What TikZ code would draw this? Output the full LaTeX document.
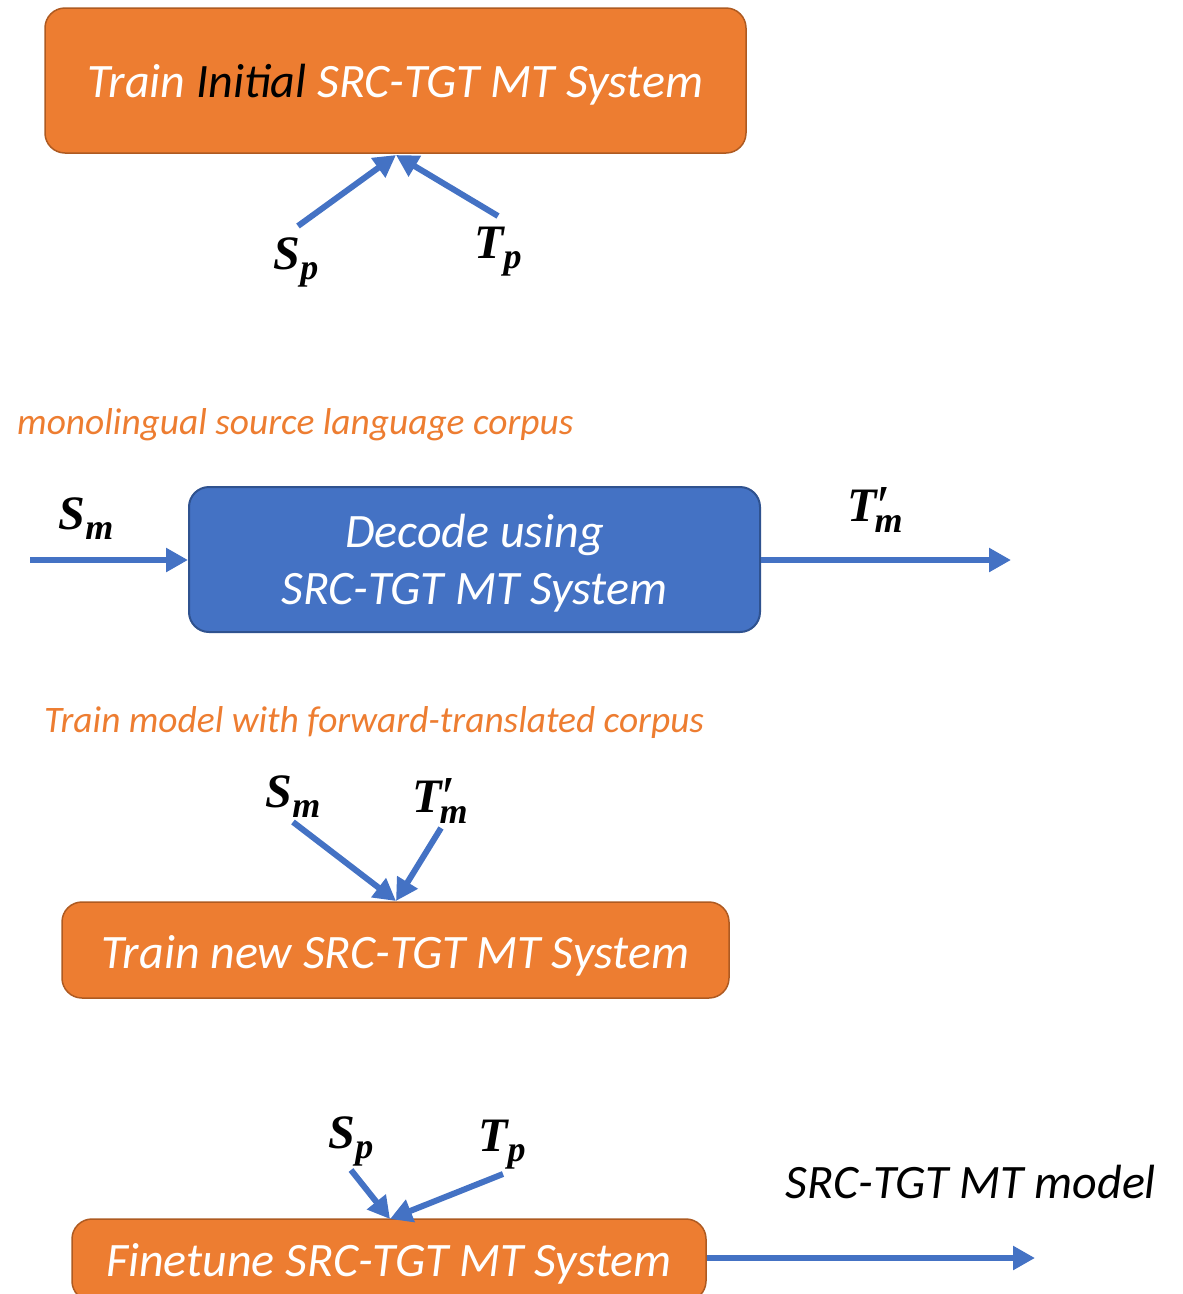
\documentclass[tikz,border=0pt]{standalone}
\usepackage{fontspec}
\setmainfont{Carlito}
\newfontfamily\labfont{Liberation Serif}
\usetikzlibrary{arrows.meta}
\definecolor{orfill}{HTML}{ED7D31}
\definecolor{ordraw}{HTML}{AE5A21}
\definecolor{blfill}{HTML}{4472C4}
\definecolor{bldraw}{HTML}{2F528F}
\newcommand{\mlb}[2]{\labfont\bfseries\itshape #1\raisebox{-10pt}{\fontsize{36}{36}\selectfont #2}}
\newcommand{\mlbp}[2]{\labfont\bfseries\itshape #1\kern1pt\rlap{\raisebox{-4pt}{\fontsize{58}{58}\selectfont\normalfont\labfont ′}}\kern-3pt\raisebox{-11pt}{\fontsize{36}{36}\selectfont #2}}
\newcommand{\dn}[2]{\raisebox{-#1pt}[\height][\depth]{#2}}
\tikzset{
  obox/.style={draw=ordraw, line width=1.5pt, fill=orfill, rounded corners=20pt, inner sep=0pt, text=white, font=\fontsize{48}{56}\selectfont\itshape},
  bbox/.style={draw=bldraw, line width=2pt, fill=blfill, rounded corners=20pt, inner sep=0pt, text=white, font=\fontsize{48}{57}\selectfont\itshape},
  captext/.style={inner sep=0pt, text=orfill, font=\fontsize{37.4}{44}\selectfont\itshape},
  mlab/.style={inner sep=0pt, font=\fontsize{48}{50}\selectfont},
  flow/.style={draw=blfill, line width=6pt, -{Triangle[length=22pt,width=23pt]}},
}
\begin{document}
\begin{tikzpicture}[x=1pt,y=-1pt]
\clip (0,0) rectangle (1183,1294);
\useasboundingbox (0,0) rectangle (1183,1294);
% box 1
\node[obox, minimum width=701pt, minimum height=145pt] (b1) at (395.5,80.5) {\dn{4}{Train \textcolor{black}{Initial} SRC-TGT MT System}};
\node[mlab] (sp1) at (296,262) {\mlb{S}{p}};
\node[mlab] (tp1) at (498,252) {\mlb{T}{p}};
\coordinate (sp1s) at (298,226);
\coordinate (tp1s) at (498,216);
\coordinate (j1) at (396,155);
\draw[flow] (sp1s) -- (j1);
\draw[flow] (tp1s) -- (j1);
% caption 1
\node[captext, anchor=west] (c1) at (17,425) {monolingual source language corpus};
% box 2
\node[bbox, minimum width=571pt, minimum height=145pt] (b2) at (474.5,559.5) {\dn{5}{\begin{tabular}{@{}c@{}}Decode using\\SRC-TGT MT System\end{tabular}}};
\node[mlab] (sm2) at (86,519) {\mlb{S}{m}};
\node[mlab] (tm2) at (875,510) {\mlbp{T}{m}};
\coordinate (in2) at (30,560);
\coordinate (out2) at (1011,560);
\draw[flow] (in2) -- (b2.west |- in2);
\draw[flow] (b2.east |- out2) -- (out2);
% caption 2
\node[captext, anchor=west] (c2) at (44,723) {Train model with forward-translated corpus};
% box 3
\node[obox, minimum width=667pt, minimum height=96pt] (b3) at (395.5,950) {\dn{6}{Train new SRC-TGT MT System}};
\node[mlab] (sm3) at (293,797) {\mlb{S}{m}};
\node[mlab] (tm3) at (440,801) {\mlbp{T}{m}};
\coordinate (sm3s) at (293,822);
\coordinate (tm3s) at (441,828);
\coordinate (j3) at (396,901);
\draw[flow] (sm3s) -- (j3);
\draw[flow] (tm3s) -- (j3);
% box 4
\node[obox, minimum width=634pt, minimum height=82pt] (b4) at (389,1260) {\dn{4}{Finetune SRC-TGT MT System}};
\node[mlab] (sp4) at (351,1141) {\mlb{S}{p}};
\node[mlab] (tp4) at (502,1145) {\mlb{T}{p}};
\coordinate (sp4s) at (351,1170);
\coordinate (tp4s) at (503,1174);
\coordinate (j4) at (390,1219);
\draw[flow] (sp4s) -- (j4);
\draw[flow] (tp4s) -- (j4);
\coordinate (out4) at (1035,1258);
\draw[flow] (b4.east |- out4) -- (out4);
\node[inner sep=0pt, font=\fontsize{48}{56}\selectfont\itshape] (mdl) at (971,1182) {SRC-TGT MT model};
\end{tikzpicture}
\end{document}
